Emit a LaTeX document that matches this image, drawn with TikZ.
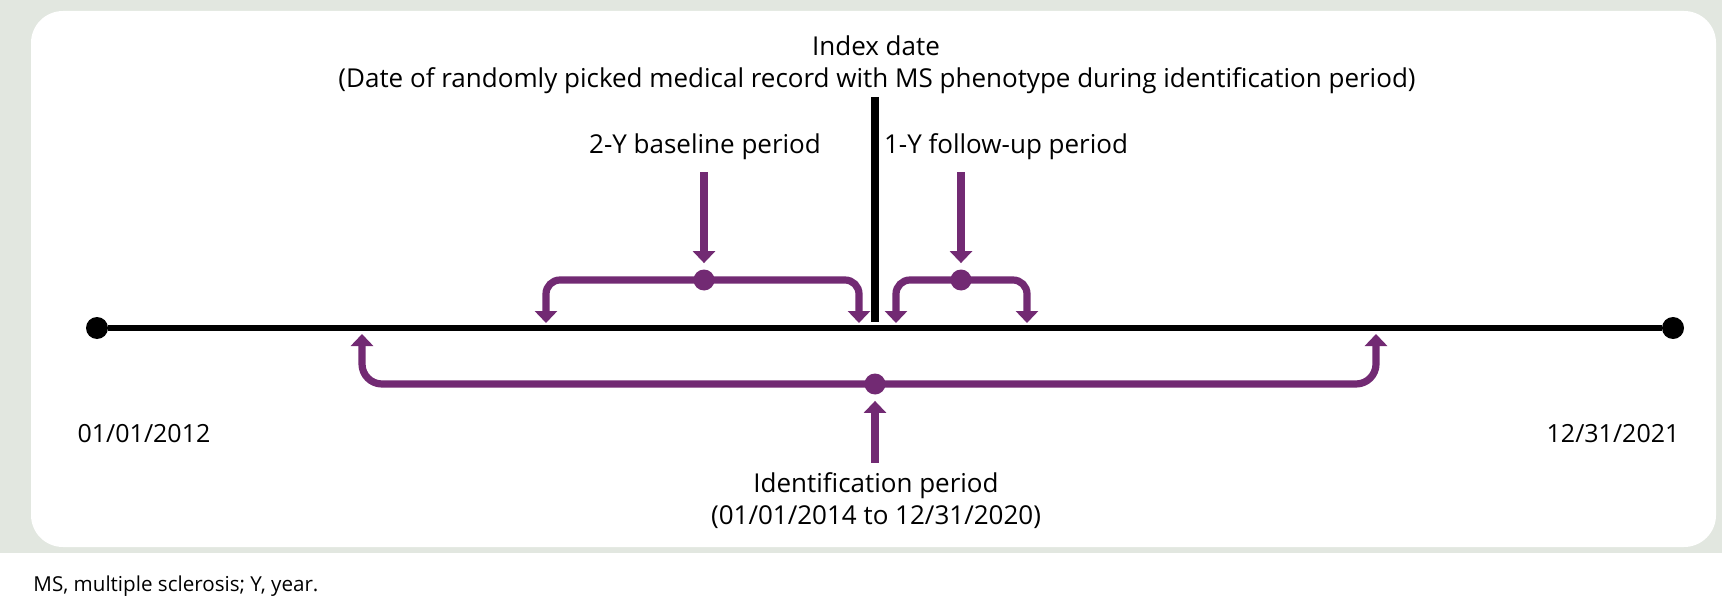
\documentclass[tikz,border=0pt]{standalone}
\usepackage{fontspec}
\setmainfont{Open Sans}
\usetikzlibrary{arrows.meta}

\definecolor{bggray}{HTML}{E2E7E0}
\definecolor{plum}{HTML}{722A73}

\tikzset{
	lbl/.style={inner sep=0pt, font=\fontsize{13}{15}\selectfont},
	datelbl/.style={inner sep=0pt, font=\fontsize{12.5}{15}\selectfont},
	blackdot/.style={draw=none, circle, fill=black, inner sep=0pt, minimum size=11pt},
	plumdot/.style={draw=none, circle, fill=plum, inner sep=0pt, minimum size=10.5pt},
	tline/.style={line width=3.4pt, black},
	pline/.style={line width=3.6pt, plum},
	ptip/.tip={Triangle[width=11pt, length=6pt]},
}

\begin{document}
\begin{tikzpicture}[x=0.5pt, y=-0.5pt]
				\useasboundingbox (0,0) rectangle (1722,609);
				\fill[bggray] (0,0) rectangle (1722,553);
				\fill[white, rounded corners=16pt] (31,11) rectangle (1716,547);
				% labels
				\node[lbl] (idx) at (876,46) {Index date};
				\node[lbl] (idxnote) at (877,81) {(Date of randomly picked medical record with MS phenotype during identification period)};
				\node[lbl] (base) at (705,147) {2-Y baseline period};
				\node[lbl] (follow) at (1006,147) {1-Y follow-up period};
				\node[lbl] (ident) at (876,486) {Identification period};
				\node[lbl] (identdates) at (876,517) {(01/01/2014 to 12/31/2020)};
				\node[datelbl] (start) at (144,434) {01/01/2012};
				\node[datelbl] (end) at (1613,434) {12/31/2021};
				\node[lbl, anchor=west, font=\fontsize{10.3}{12}\selectfont] (note) at (33,586) {MS, multiple sclerosis; Y, year.};
				% timeline
				\node[blackdot] (t0) at (97,328) {};
				\node[blackdot] (t1) at (1673,328) {};
				\draw[tline] (t0) -- (t1);
				\coordinate (idxtop) at (875,97);
				\coordinate (idxbot) at (875,322);
				\draw[line width=4pt] (idxtop) -- (idxbot);
				% baseline bracket
				\node[plumdot] (bdot) at (704,280) {};
				\coordinate (bl) at (546,323);
				\coordinate (br) at (859,323);
				\draw[pline, ptip-ptip, rounded corners=7pt] (bl) |- (bdot.center) -| (br);
				\draw[pline, -ptip, shorten <=6pt, shorten >=3pt] (bdot |- base.south) -- (bdot);
				% follow-up bracket
				\node[plumdot] (fdot) at (961,280) {};
				\coordinate (fl) at (896,323);
				\coordinate (fr) at (1027,323);
				\draw[pline, ptip-ptip, rounded corners=7pt] (fl) |- (fdot.center) -| (fr);
				\draw[pline, -ptip, shorten <=6pt, shorten >=3pt] (fdot |- follow.south) -- (fdot);
				% identification bracket
				\node[plumdot] (idot) at (875,384) {};
				\coordinate (il) at (362,334);
				\coordinate (ir) at (1376,334);
				\draw[pline, ptip-ptip, rounded corners=10pt] (il) |- (idot.center) -| (ir);
				\draw[pline, -ptip, shorten <=5pt, shorten >=3pt] (idot |- ident.north) -- (idot);
			\end{tikzpicture}
\end{document}
